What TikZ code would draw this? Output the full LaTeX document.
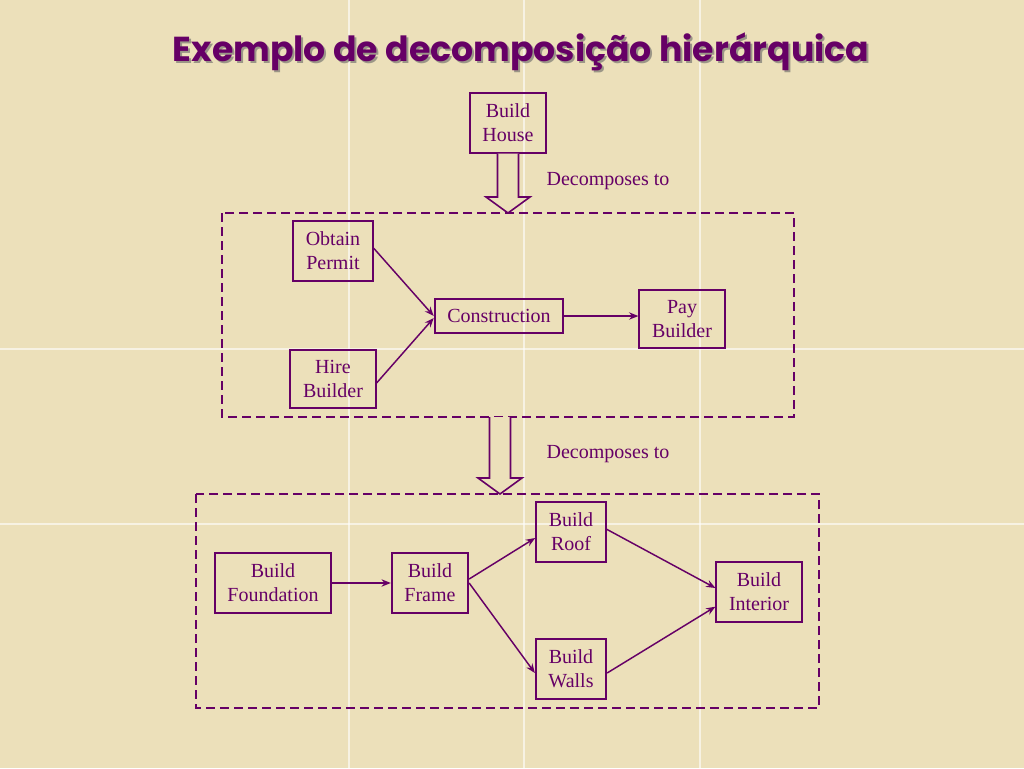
\documentclass[tikz,border=0pt]{standalone}
\usepackage{fontspec}
\setmainfont{Liberation Serif}
\newfontfamily\titlefont{Poppins}
\usepackage{tikz}
\usetikzlibrary{arrows.meta,calc}
\definecolor{plum}{RGB}{102,0,102}
\definecolor{parch}{RGB}{236,224,186}
\tikzstyle{blk}=[draw=plum, line width=1.4pt, text=plum, align=center, inner xsep=9.5pt, inner ysep=8pt, font=\fontsize{15}{18}\selectfont]
\tikzstyle{flow}=[draw=plum, line width=1.1pt, -{Stealth[length=7pt,width=5.5pt]}]
\tikzstyle{group}=[draw=plum, line width=1.3pt, dash pattern=on 7pt off 3.5pt]
\tikzstyle{hollow}=[draw=plum, line width=1.2pt, fill=parch, line join=miter]
\tikzstyle{note}=[text=plum, font=\fontsize{15}{18}\selectfont]

\begin{document}
\begin{tikzpicture}[x=0.75pt,y=-0.75pt]
\useasboundingbox (0,0) rectangle (1024,768);
\fill[parch] (0,0) rectangle (1024,768);
\foreach \x in {349,524,700} {
	\draw[white, opacity=0.6, line width=0.8pt] (\x,0) -- (\x,768);
}
\foreach \y in {349,524} {
	\draw[white, opacity=0.6, line width=0.8pt] (0,\y) -- (1024,\y);
}
% title
\node[anchor=base, text=black!60, opacity=0.6, font=\titlefont\bfseries\fontsize{26}{32}\selectfont] at (523,63) {Exemplo de decomposição hierárquica};
\node[anchor=base, text=plum, font=\titlefont\bfseries\fontsize{26}{32}\selectfont] (title) at (521,61) {Exemplo de decomposição hierárquica};
% level 0
\node[blk] (house) at (508,123) {Build\\House};
\node[note] (dec1) at (608,181) {Decomposes to};
% level 1
\draw[group] (222,213) coordinate (g1nw) rectangle (794,417) coordinate (g1se);
\node[blk] (permit) at (333,251) {Obtain\\Permit};
\node[blk] (hire) at (333,379) {Hire\\Builder};
\node[blk] (constr) at (499,316) {Construction};
\node[blk] (pay) at (682,319) {Pay\\Builder};
\draw[flow] ([yshift=2pt]permit.east) -- (constr.west);
\draw[flow] ([yshift=-3pt]hire.east) -- ([yshift=-1.5pt]constr.west);
\draw[flow] (constr.east) -- (constr.east -| pay.west);
\node[note] (dec2) at (608,454) {Decomposes to};
% level 2
\draw[group] (196,494) coordinate (g2nw) rectangle (819,708) coordinate (g2se);
\node[blk] (found) at (273,583) {Build\\Foundation};
\node[blk] (frame) at (430,583) {Build\\Frame};
\node[blk] (roof) at (571,532) {Build\\Roof};
\node[blk] (walls) at (571,669) {Build\\Walls};
\node[blk] (inter) at (759,592) {Build\\Interior};
\draw[flow] (found.east) -- (frame.west);
\draw[flow] ([yshift=3pt]frame.east) -- ([yshift=-4.5pt]roof.west);
\draw[flow] (frame.east) -- ([yshift=-3pt]walls.west);
\draw[flow] ([yshift=2pt]roof.east) -- ([yshift=3pt]inter.west);
\draw[flow] ([yshift=-3pt]walls.east) -- ([yshift=-11pt]inter.west);
% decomposition arrows
\coordinate (a1t) at (house.south);
\coordinate (a1b) at (a1t |- g1nw);
\coordinate (a2t) at (500,417);
\coordinate (a2b) at (a2t |- g2nw);
\foreach \t/\b in {a1t/a1b,a2t/a2b} {
	\draw[hollow] ($(\t)+(-10.5,0)$) -- ($(\b)+(-10.5,-16)$) -- ($(\b)+(-22,-16)$) -- (\b)
		-- ($(\b)+(22,-16)$) -- ($(\b)+(10.5,-16)$) -- ($(\t)+(10.5,0)$);
}
\end{tikzpicture}
\end{document}
